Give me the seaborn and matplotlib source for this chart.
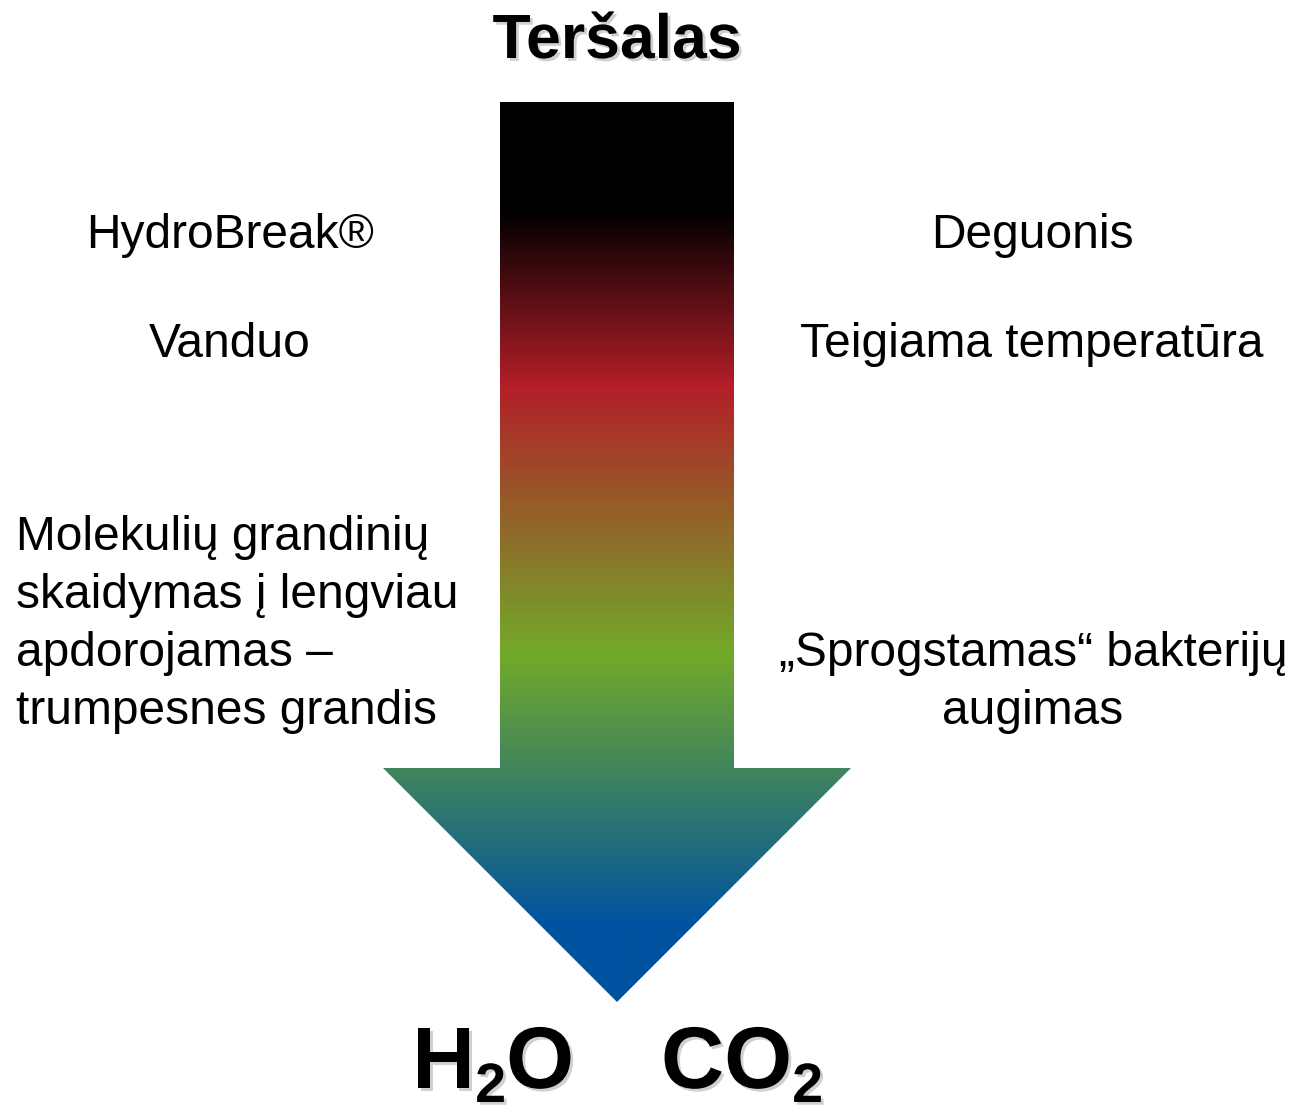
import numpy as np
import matplotlib.pyplot as plt
import matplotlib.patheffects as pe
from matplotlib.colors import LinearSegmentedColormap
from matplotlib.patches import Polygon
import seaborn as sns

# gradient stops along the arrow (fraction from top to tip, colour)
stop_pos = [0.0, 0.12, 0.314, 0.614, 0.914, 1.0]
stop_colors = ['#000000', '#000000', '#B31E28', '#72AA2A', '#0053A0', '#0053A0']

title = 'Teršalas'
left_top = ['HydroBreak®', 'Vanduo']
right_top = ['Deguonis', 'Teigiama temperatūra']
left_para = ['Molekulių grandinių', 'skaidymas į lengviau',
             'apdorojamas –', 'trumpesnes grandis']
right_para = ['„Sprogstamas“ bakterijų', 'augimas']
# products as (text, is_subscript) pieces
products = [[('H', False), ('2', True), ('O', False)],
            [('CO', False), ('2', True)]]

sns.set_theme(style='white')
plt.rcParams['font.family'] = ['Liberation Sans', 'DejaVu Sans']
plt.rcParams['text.color'] = 'black'

W, H = 1293, 1106
fig = plt.figure(figsize=(W / 100, H / 100), dpi=100)
ax = fig.add_axes([0, 0, 1, 1])

# arrow geometry (pixel space)
shaft_l, shaft_r, top = 500, 734, 102
head_y, head_l, head_r = 768, 383, 851
tip_x, tip_y = 617, 1002
arrow = Polygon([(shaft_l, top), (shaft_r, top), (shaft_r, head_y), (head_r, head_y),
                 (tip_x, tip_y), (head_l, head_y), (shaft_l, head_y)],
                closed=True, facecolor='none', edgecolor='none')
ax.add_patch(arrow)

cmap = LinearSegmentedColormap.from_list('arrow', list(zip(stop_pos, stop_colors)))
grad = np.linspace(0, 1, 600).reshape(-1, 1)
im = ax.imshow(grad, cmap=cmap, aspect='auto', origin='upper',
               extent=[head_l, head_r, tip_y, top], interpolation='bilinear')
im.set_clip_path(arrow)

ax.set_xlim(0, W)
ax.set_ylim(H, 0)
ax.axis('off')

fs = 34.5  # ~48 px
shadow = [pe.SimplePatchShadow(offset=(2, -2), shadow_rgbFace='#666666', alpha=0.3),
          pe.Normal()]

ax.text(617, 58, title, ha='center', va='baseline', fontsize=45,
        fontweight='bold', color='black', path_effects=shadow)

for i, s in enumerate(left_top):
    ax.text(230, 248 + i * 109, s, ha='center', va='baseline', fontsize=fs, color='black')
for i, s in enumerate(right_top):
    ax.text(1032, 248 + i * 109, s, ha='center', va='baseline', fontsize=fs, color='black')
for i, s in enumerate(left_para):
    ax.text(16, 550 + i * 58, s, ha='left', va='baseline', fontsize=fs, color='black')
for i, s in enumerate(right_para):
    ax.text(1033, 666 + i * 58, s, ha='center', va='baseline', fontsize=fs, color='black')

# chemical formulas, built piece by piece so the subscript sits low
renderer = fig.canvas.get_renderer()
for cx, pieces in zip([493, 742], products):
    texts = []
    x = 0
    for s, sub in pieces:
        t = ax.text(x, 1102 if sub else 1088, s, ha='left', va='baseline',
                    fontsize=40 if sub else 63, fontweight='bold', color='black',
                    path_effects=shadow)
        x += t.get_window_extent(renderer).width
        texts.append(t)
    for t in texts:
        px, py = t.get_position()
        t.set_position((px + cx - x / 2, py))

fig.savefig('out.png', dpi=100)
